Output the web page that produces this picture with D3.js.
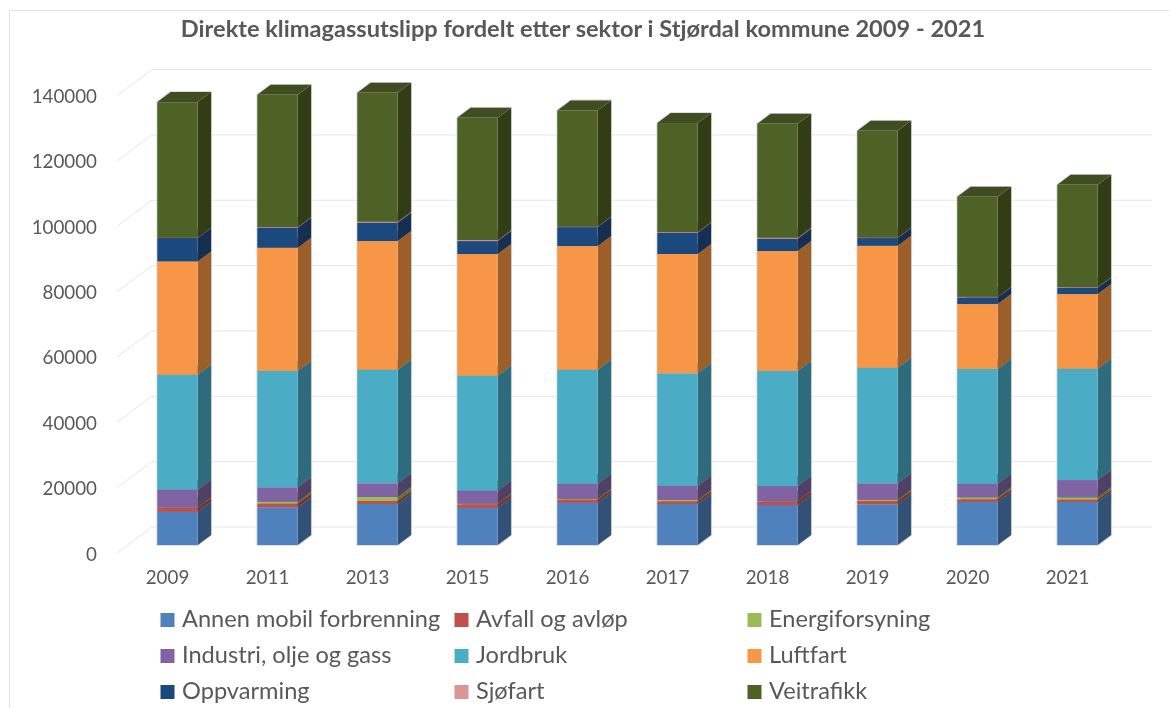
<!DOCTYPE html>
<html>
<head>
<meta charset="utf-8">
<script src="https://cdn.jsdelivr.net/npm/d3@7"></script>
<style>
    html, body { margin: 0; padding: 0; background: #fff; }
    text { font-family: Lato, "Open Sans", sans-serif; fill: #595959; }
</style>
</head>
<body>
<div id="chart"></div>
<script>
var title = 'Direkte klimagassutslipp fordelt etter sektor i Stjørdal kommune 2009 - 2021';
var years = ['2009', '2011', '2013', '2015', '2016', '2017', '2018', '2019', '2020', '2021'];
var yTicks = [0, 20000, 40000, 60000, 80000, 100000, 120000, 140000];

var sectors = ['Annen mobil forbrenning', 'Avfall og avløp', 'Energiforsyning',
    'Industri, olje og gass', 'Jordbruk', 'Luftfart', 'Oppvarming', 'Sjøfart', 'Veitrafikk'];
var colors = ['#4f81bd', '#c0504d', '#9bbb59', '#8064a2', '#4bacc6', '#f79646', '#1f497d', '#d99694', '#4f6228'];

// tonnes per sector
var annenMobil = [10190, 11540, 12550, 11410, 12940, 12550, 12240, 12450, 13160, 13160];
var avfall     = [1220, 1100, 920, 1040, 920, 830, 1130, 1010, 830, 700];
var energi     = [100, 610, 1220, 240, 280, 400, 90, 400, 610, 730];
var industri   = [5420, 4410, 4190, 3920, 4620, 4380, 4590, 5020, 4160, 5290];
var jordbruk   = [35190, 35590, 34760, 35190, 34880, 34390, 35190, 35370, 35100, 34060];
var luftfart   = [34670, 37730, 39380, 37240, 37850, 36510, 36720, 37330, 19890, 22860];
var oppvarming = [7160, 6120, 5600, 3980, 5810, 6520, 3760, 2360, 2050, 1930];
var sjofart    = [100, 210, 370, 310, 150, 210, 370, 150, 180, 210];
var veitrafikk = [41490, 40480, 39410, 37420, 35560, 33350, 34820, 32680, 30600, 31300];

var seriesValues = [annenMobil, avfall, energi, industri, jordbruk, luftfart, oppvarming, sjofart, veitrafikk];

var width = 1169;
var height = 708;

// 3d offsets: bar depth and the wall behind it
var barDx = 13.4, barDy = -10;
var wallDy = -18, frontDy = 8;

var svg = d3.select('#chart').append('svg')
    .attr('width', width)
    .attr('height', height)
    .style('display', 'block');

// the reference is a soft screenshot
svg.append('defs').append('filter')
    .attr('id', 'soft')
    .append('feGaussianBlur')
    .attr('stdDeviation', 0.55);

var root = svg.append('g').attr('filter', 'url(#soft)');

root.append('rect')
    .attr('x', 0).attr('y', 0)
    .attr('width', width).attr('height', height)
    .attr('fill', '#fff');

root.append('path')
    .attr('d', 'M9.5,708V10.5H1169')
    .attr('fill', 'none')
    .attr('stroke', '#e2e2e2');

var xScale = d3.scaleBand()
    .domain(years)
    .range([127.5, 1127.5])
    .paddingInner(0.596)
    .paddingOuter(0.298);

var yScale = d3.scaleLinear()
    .domain([0, 140000])
    .range([545, 87.55]);

// back wall grid and the diagonal on the side wall
var grid = root.append('g');
grid.selectAll('line.back').data(yTicks).enter().append('line')
    .attr('class', 'back')
    .attr('x1', 152).attr('x2', 1152)
    .attr('y1', function(d) { return yScale(d) + wallDy; })
    .attr('y2', function(d) { return yScale(d) + wallDy; })
    .attr('stroke', '#e6e6e6');
grid.selectAll('line.side').data(yTicks).enter().append('line')
    .attr('class', 'side')
    .attr('x1', 117).attr('x2', 152)
    .attr('y1', function(d) { return yScale(d) + frontDy; })
    .attr('y2', function(d) { return yScale(d) + wallDy; })
    .attr('stroke', '#e6e6e6');

var yAxis = d3.axisLeft(yScale).tickValues(yTicks).tickSize(0).tickPadding(0)
    .tickFormat(function(d) { return String(d); });
var yAxisG = root.append('g')
    .attr('transform', 'translate(97,' + (frontDy + 1) + ')')
    .call(yAxis);
yAxisG.select('.domain').remove();
yAxisG.selectAll('text').style('font-size', '18.8px');

var xAxis = d3.axisBottom(xScale).tickSize(0).tickPadding(0);
var xAxisG = root.append('g')
    .attr('transform', 'translate(-10,571)')
    .call(xAxis);
xAxisG.select('.domain').remove();
xAxisG.selectAll('text').style('font-size', '18.8px');

// stacked bars
var table = years.map(function(y, i) {
    var row = { year: y };
    sectors.forEach(function(s, k) { row[s] = seriesValues[k][i]; });
    return row;
});
var stacked = d3.stack().keys(sectors)(table);

function shade(c, k) {
    var rgb = d3.rgb(c);
    return d3.rgb(rgb.r * k, rgb.g * k, rgb.b * k).formatHex();
}

var bw = xScale.bandwidth();

// pale edge around each whole bar
root.append('g').selectAll('path').data(stacked[stacked.length - 1]).enter().append('path')
    .attr('d', function(d) {
        var x0 = xScale(d.data.year);
        var x1 = x0 + bw;
        var y0 = yScale(0);
        var y1 = yScale(d[1]);
        return d3.line()([[x0, y0], [x0, y1], [x0 + barDx, y1 + barDy], [x1 + barDx, y1 + barDy],
            [x1 + barDx, y0 + barDy], [x1, y0]]) + 'Z';
    })
    .attr('fill', '#fff')
    .attr('stroke', '#cfd6dc')
    .attr('stroke-width', 1.6);

var layers = root.selectAll('g.layer').data(stacked).enter().append('g')
    .attr('class', 'layer');

layers.each(function(layer, k) {
    var g = d3.select(this);
    var c = colors[k];
    layer.forEach(function(d) {
        var x0 = xScale(d.data.year);
        var x1 = x0 + bw;
        var y0 = yScale(d[0]);
        var y1 = yScale(d[1]);
        // side
        g.append('path')
            .attr('d', d3.line()([[x1, y0], [x1 + barDx, y0 + barDy], [x1 + barDx, y1 + barDy], [x1, y1]]) + 'Z')
            .attr('fill', shade(c, 0.63));
        // top, the next segment paints over it
        g.append('path')
            .attr('d', d3.line()([[x0, y1], [x0 + barDx, y1 + barDy], [x1 + barDx, y1 + barDy], [x1, y1]]) + 'Z')
            .attr('fill', shade(c, 0.8));
        // front
        g.append('rect')
            .attr('x', x0).attr('y', y1)
            .attr('width', bw).attr('height', y0 - y1)
            .attr('fill', c);
    });
});

// title
root.append('text')
    .attr('x', 583)
    .attr('y', 37)
    .attr('text-anchor', 'middle')
    .style('font-size', '23.6px')
    .style('font-weight', 'bold')
    .text(title);

// legend, three columns
var legendX = [160.5, 454.5, 747.5];
var legendY = [613, 649, 685];
var legend = root.selectAll('g.legend-item').data(sectors).enter().append('g')
    .attr('class', 'legend-item')
    .attr('transform', function(d, i) {
        return 'translate(' + legendX[i % 3] + ',' + legendY[Math.floor(i / 3)] + ')';
    });
legend.append('rect')
    .attr('width', 14).attr('height', 14)
    .attr('fill', function(d, i) { return colors[i]; });
legend.append('text')
    .attr('x', 21.5)
    .attr('y', 13.5)
    .style('font-size', '23.6px')
    .text(function(d) { return d; });
</script>
</body>
</html>
